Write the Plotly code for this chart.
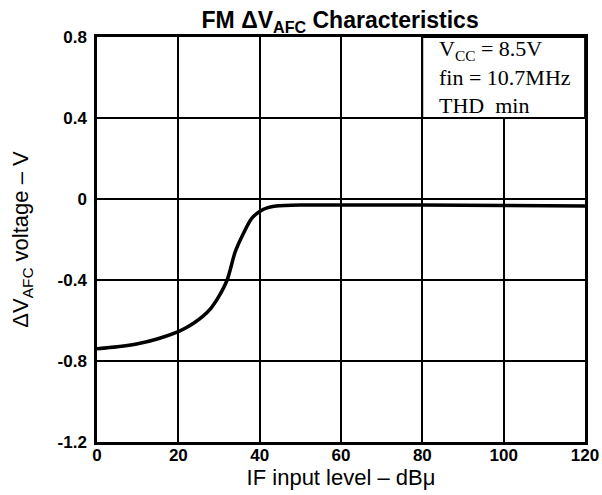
import plotly.graph_objects as go

# Data
if_level = [0, 5, 10, 15, 20, 22, 24, 26, 28, 30, 32, 34, 36, 38, 40, 42, 44, 50, 60, 80, 100, 120]
dv_afc = [-0.74, -0.73, -0.715, -0.69, -0.655, -0.635, -0.61, -0.58, -0.54, -0.48, -0.40,
          -0.26, -0.17, -0.097, -0.062, -0.043, -0.035, -0.03, -0.03, -0.03, -0.032, -0.035]

x_ticks = [0, 20, 40, 60, 80, 100, 120]
y_ticks = [-1.2, -0.8, -0.4, 0, 0.4, 0.8]
y_tick_labels = ["-1.2", "-0.8", "-0.4", "0", "0.4", "0.8"]

cond_text = "V<sub>CC</sub> = 8.5V<br>fin = 10.7MHz<br>THD  min"

fig = go.Figure()
fig.add_trace(go.Scatter(
    x=if_level, y=dv_afc, mode="lines",
    line=dict(color="black", width=3.5, shape="spline", smoothing=0.8),
    hoverinfo="skip", showlegend=False,
))

# condition box (covers grid at top right)
fig.add_shape(type="rect", xref="x", yref="y", x0=80, x1=120, y0=0.4, y1=0.8,
              fillcolor="white", line=dict(color="black", width=1.8), layer="between")
fig.add_annotation(x=83.5, y=0.8, xref="x", yref="y", xanchor="left", yanchor="top",
                   yshift=3, text=cond_text, showarrow=False, align="left",
                   font=dict(family="Liberation Serif", size=22, color="black"))

tickfont = dict(family="Liberation Sans", size=17, color="black", weight="bold")
fig.update_xaxes(range=[0, 120], tickvals=x_ticks, ticktext=[str(v) for v in x_ticks],
                 showgrid=True, gridcolor="black", gridwidth=1.8,
                 showline=True, linecolor="black", linewidth=2.5, mirror=True,
                 zeroline=False, ticks="", ticklabelstandoff=-4, tickfont=tickfont,
                 automargin=False,
                 title=dict(text="IF input level – dBμ", standoff=0,
                            font=dict(family="Liberation Sans", size=22, color="black")))
fig.update_yaxes(range=[-1.2, 0.8], tickvals=y_ticks, ticktext=y_tick_labels,
                 showgrid=True, gridcolor="black", gridwidth=1.8,
                 showline=True, linecolor="black", linewidth=2.5, mirror=True,
                 zeroline=False, ticks="", ticklabelstandoff=4, tickfont=tickfont,
                 automargin=False,
                 title=dict(text="ΔV<sub>AFC</sub> voltage – V", standoff=23,
                            font=dict(family="Liberation Sans", size=22, color="black")))

fig.update_layout(
    width=602, height=495,
    margin=dict(l=97, r=17, t=37, b=53),
    paper_bgcolor="white", plot_bgcolor="white",
    title=dict(text="<b>FM ΔV<sub>AFC</sub> Characteristics</b>", x=0.565, xanchor="center",
               y=0.96, yanchor="middle",
               font=dict(family="Liberation Sans", size=23, color="black")),
)

fig.write_html("out.html", config={"displayModeBar": False},
               post_script="document.body.style.margin='0px';")
